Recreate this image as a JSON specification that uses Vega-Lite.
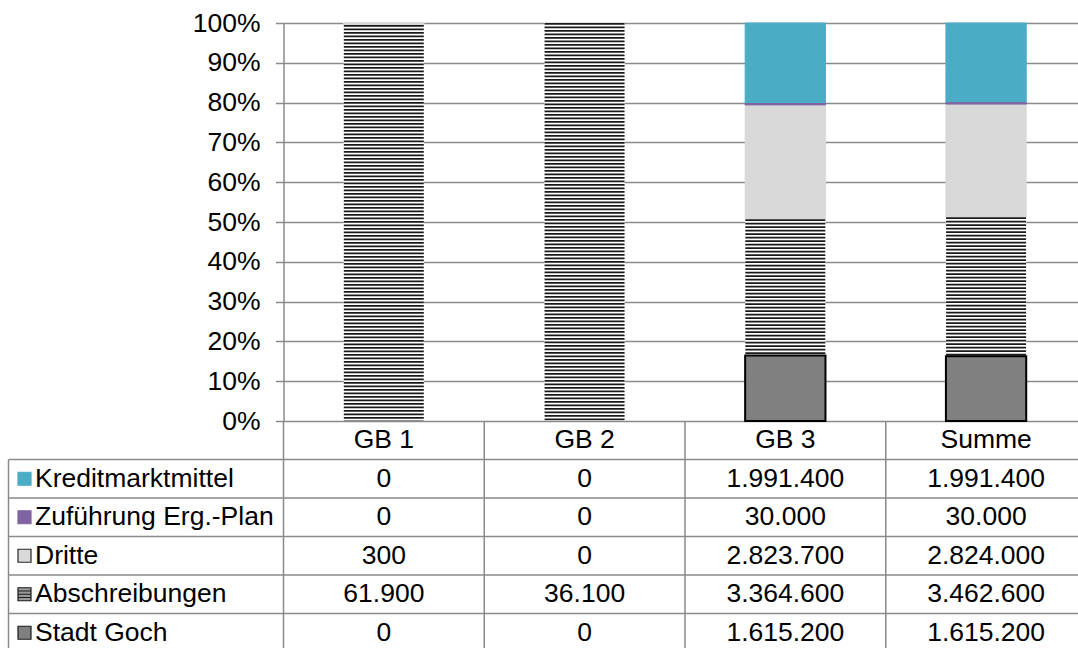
{
  "$schema": "https://vega.github.io/schema/vega-lite/v6.json",
  "padding": {"left": 7.5, "top": -17, "right": 0, "bottom": 0},
  "config": {
    "view": {"stroke": null},
    "font": "Liberation Sans",
    "locale": {"number": {"decimal": ",", "thousands": ".", "grouping": [3], "currency": ["", " €"]}},
    "text": {"fontSize": 26.5, "color": "#000000", "baseline": "middle"}
  },
  "datasets": {
    "werte": [
      {"cat": "GB 1", "reihe": "Kreditmarktmittel", "betrag": 0},
      {"cat": "GB 1", "reihe": "Zuführung Erg.-Plan", "betrag": 0},
      {"cat": "GB 1", "reihe": "Dritte", "betrag": 300},
      {"cat": "GB 1", "reihe": "Abschreibungen", "betrag": 61900},
      {"cat": "GB 1", "reihe": "Stadt Goch", "betrag": 0},
      {"cat": "GB 2", "reihe": "Kreditmarktmittel", "betrag": 0},
      {"cat": "GB 2", "reihe": "Zuführung Erg.-Plan", "betrag": 0},
      {"cat": "GB 2", "reihe": "Dritte", "betrag": 0},
      {"cat": "GB 2", "reihe": "Abschreibungen", "betrag": 36100},
      {"cat": "GB 2", "reihe": "Stadt Goch", "betrag": 0},
      {"cat": "GB 3", "reihe": "Kreditmarktmittel", "betrag": 1991400},
      {"cat": "GB 3", "reihe": "Zuführung Erg.-Plan", "betrag": 30000},
      {"cat": "GB 3", "reihe": "Dritte", "betrag": 2823700},
      {"cat": "GB 3", "reihe": "Abschreibungen", "betrag": 3364600},
      {"cat": "GB 3", "reihe": "Stadt Goch", "betrag": 1615200},
      {"cat": "Summe", "reihe": "Kreditmarktmittel", "betrag": 1991400},
      {"cat": "Summe", "reihe": "Zuführung Erg.-Plan", "betrag": 30000},
      {"cat": "Summe", "reihe": "Dritte", "betrag": 2824000},
      {"cat": "Summe", "reihe": "Abschreibungen", "betrag": 3462600},
      {"cat": "Summe", "reihe": "Stadt Goch", "betrag": 1615200}
    ],
    "spalten": [
      {"cat": "GB 1"}, {"cat": "GB 2"}, {"cat": "GB 3"}, {"cat": "Summe"}
    ],
    "reihen": [
      {"reihe": "Kreditmarktmittel"},
      {"reihe": "Zuführung Erg.-Plan"},
      {"reihe": "Dritte"},
      {"reihe": "Abschreibungen"},
      {"reihe": "Stadt Goch"}
    ]
  },
  "columns": 2,
  "spacing": 0,
  "bounds": "flush",
  "resolve": {"scale": {"fill": "independent", "stroke": "independent", "shape": "independent"}},
  "concat": [
    {
      "width": 275,
      "height": 398,
      "data": {"values": []},
      "mark": "point",
      "encoding": {}
    },
    {
      "width": 795,
      "height": 398,
      "data": {"name": "werte"},
      "transform": [
        {"calculate": "indexof(['Stadt Goch','Abschreibungen','Dritte','Zuführung Erg.-Plan','Kreditmarktmittel'], datum.reihe)", "as": "rang"},
        {"stack": "betrag", "groupby": ["cat"], "offset": "normalize", "sort": [{"field": "rang", "order": "ascending"}], "as": ["y0", "y1"]},
        {"filter": "datum.betrag > 0"}
      ],
      "encoding": {
        "x": {
          "field": "cat",
          "type": "nominal",
          "scale": {"domain": ["GB 1", "GB 2", "GB 3", "Summe"], "paddingInner": 0.6, "paddingOuter": 0.28, "align": 0.535},
          "axis": null
        },
        "y": {
          "field": "y1",
          "type": "quantitative",
          "scale": {"domain": [0, 1], "nice": false},
          "axis": {
            "values": [0, 0.1, 0.2, 0.3, 0.4, 0.5, 0.6, 0.7, 0.8, 0.9, 1],
            "format": ".0%",
            "title": null,
            "grid": true,
            "gridColor": "#8a8a8a",
            "gridWidth": 1.5,
            "domainColor": "#8a8a8a",
            "domainWidth": 1.5,
            "tickColor": "#8a8a8a",
            "tickWidth": 1.5,
            "tickSize": 8,
            "labelFontSize": 26.5,
            "labelColor": "#000000",
            "labelPadding": 15.5
          }
        },
        "y2": {"field": "y0"}
      },
      "layer": [
        {
          "mark": {"type": "bar", "strokeWidth": 1},
          "encoding": {
            "fill": {
              "field": "reihe",
              "type": "nominal",
              "scale": {
                "domain": ["Kreditmarktmittel", "Zuführung Erg.-Plan", "Dritte", "Abschreibungen", "Stadt Goch"],
                "range": ["#4BACC6", "#8064A2", "#D9D9D9", "#FFFFFF", "#808080"]
              },
              "legend": null
            },
            "stroke": {
              "field": "reihe",
              "type": "nominal",
              "scale": {
                "domain": ["Kreditmarktmittel", "Zuführung Erg.-Plan", "Dritte", "Abschreibungen", "Stadt Goch"],
                "range": ["#4BACC6", "#8064A2", "#D9D9D9", "transparent", "#808080"]
              },
              "legend": null
            }
          }
        },
        {
          "transform": [{"filter": "datum.reihe === 'Zuführung Erg.-Plan'"}],
          "mark": {"type": "bar", "fill": "#8064A2", "stroke": "#8064A2", "strokeWidth": 1}
        },
        {
          "transform": [{"filter": "datum.reihe === 'Abschreibungen'"}],
          "mark": {"type": "rule", "strokeWidth": 80, "strokeDash": [1.75, 1.75], "color": "#1a1a1a"}
        },
        {
          "transform": [{"filter": "datum.reihe === 'Stadt Goch'"}],
          "mark": {"type": "bar", "fill": "transparent", "stroke": "#000000", "strokeWidth": 2}
        }
      ]
    },
    {
      "width": 275,
      "height": 227,
      "data": {"name": "reihen"},
      "layer": [
        {
          "mark": {"type": "rule", "color": "#8a8a8a", "strokeWidth": 1.5},
          "encoding": {
            "y": {
              "field": "reihe",
              "type": "nominal",
              "bandPosition": 0,
              "scale": {
                "domain": ["Kopf", "Kreditmarktmittel", "Zuführung Erg.-Plan", "Dritte", "Abschreibungen", "Stadt Goch"],
                "range": [0, 231],
                "paddingInner": 0,
                "paddingOuter": 0
              },
              "axis": null
            }
          }
        },
        {
          "transform": [{"filter": "datum.reihe === 'Kreditmarktmittel'"}],
          "mark": {"type": "rule", "color": "#8a8a8a", "strokeWidth": 1.5},
          "encoding": {
            "x": {"datum": 0, "type": "quantitative", "scale": {"domain": [0, 1]}, "axis": null},
            "y": {"field": "reihe", "type": "nominal", "bandPosition": 0},
            "y2": {"value": "height"}
          }
        },
        {
          "mark": {"type": "point", "filled": true, "size": 169, "strokeWidth": 1.2, "opacity": 1, "xOffset": 16},
          "encoding": {
            "x": {"datum": 0, "type": "quantitative"},
            "y": {"field": "reihe", "type": "nominal"},
            "shape": {
              "field": "reihe",
              "type": "nominal",
              "scale": {
                "domain": ["Kreditmarktmittel", "Zuführung Erg.-Plan", "Dritte", "Abschreibungen", "Stadt Goch"],
                "range": ["square", "square", "square", "M-1,-1H1V1H-1Z M-1,-0.5H1 M-1,0H1 M-1,0.5H1", "square"]
              },
              "legend": null
            },
            "fill": {
              "field": "reihe",
              "type": "nominal",
              "scale": {
                "domain": ["Kreditmarktmittel", "Zuführung Erg.-Plan", "Dritte", "Abschreibungen", "Stadt Goch"],
                "range": ["#4BACC6", "#8064A2", "#D9D9D9", "#9a9a9a", "#808080"]
              },
              "legend": null
            },
            "stroke": {
              "field": "reihe",
              "type": "nominal",
              "scale": {
                "domain": ["Kreditmarktmittel", "Zuführung Erg.-Plan", "Dritte", "Abschreibungen", "Stadt Goch"],
                "range": ["#4BACC6", "#8064A2", "#262626", "#1a1a1a", "#1a1a1a"]
              },
              "legend": null
            }
          }
        },
        {
          "mark": {"type": "text", "align": "left", "dx": 26.5},
          "encoding": {
            "x": {"datum": 0, "type": "quantitative"},
            "y": {"field": "reihe", "type": "nominal"},
            "text": {"field": "reihe"}
          }
        }
      ]
    },
    {
      "width": 795,
      "height": 227,
      "layer": [
        {
          "data": {"name": "reihen"},
          "mark": {"type": "rule", "color": "#8a8a8a", "strokeWidth": 1.5},
          "encoding": {
            "y": {
              "field": "reihe",
              "type": "nominal",
              "bandPosition": 0,
              "scale": {
                "domain": ["Kopf", "Kreditmarktmittel", "Zuführung Erg.-Plan", "Dritte", "Abschreibungen", "Stadt Goch"],
                "range": [0, 231],
                "paddingInner": 0,
                "paddingOuter": 0
              },
              "axis": null
            }
          }
        },
        {
          "data": {"name": "spalten"},
          "mark": {"type": "rule", "color": "#8a8a8a", "strokeWidth": 1.5},
          "encoding": {
            "x": {
              "field": "cat",
              "type": "nominal",
              "bandPosition": 0,
              "scale": {"domain": ["GB 1", "GB 2", "GB 3", "Summe"], "range": [0, 803], "paddingInner": 0, "paddingOuter": 0},
              "axis": null
            }
          }
        },
        {
          "data": {"name": "spalten"},
          "mark": {"type": "text", "align": "center"},
          "encoding": {
            "x": {"field": "cat", "type": "nominal"},
            "y": {"datum": "Kopf", "type": "nominal"},
            "text": {"field": "cat"}
          }
        },
        {
          "data": {"name": "werte"},
          "mark": {"type": "text", "align": "center"},
          "encoding": {
            "x": {"field": "cat", "type": "nominal"},
            "y": {"field": "reihe", "type": "nominal"},
            "text": {"field": "betrag", "type": "quantitative", "format": ",d"}
          }
        }
      ]
    }
  ]
}
